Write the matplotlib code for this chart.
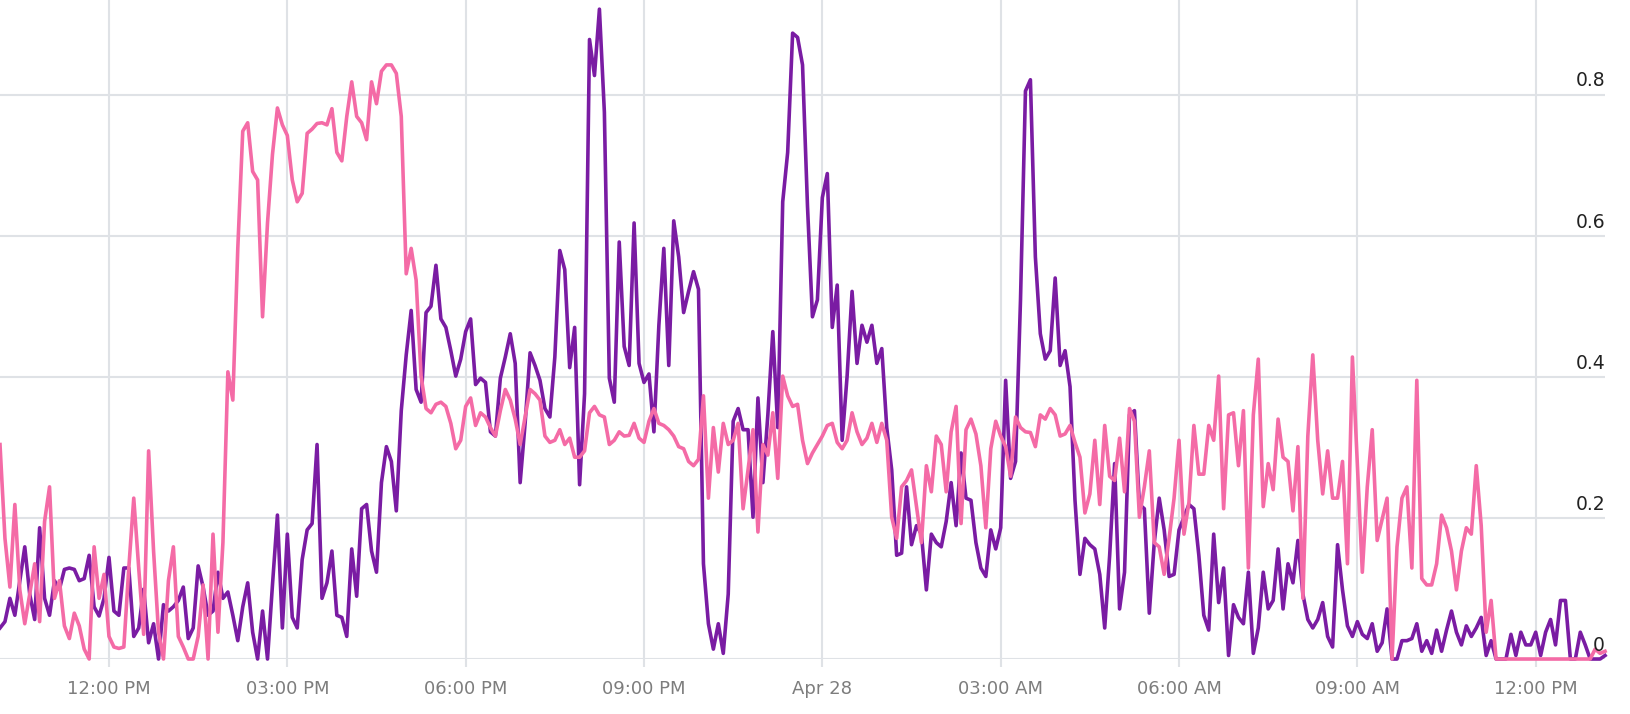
import matplotlib
matplotlib.use("Agg")
import matplotlib.pyplot as plt
import matplotlib.transforms as mtransforms
import pandas as pd

# 5-minute samples starting 10:10 AM, Apr 27
start_time = "2024-04-27 10:10"
step = "5min"

purple_values = [
    0.044, 0.053, 0.086, 0.062, 0.111, 0.159, 0.092, 0.056, 0.186, 0.086,
    0.062, 0.111, 0.099, 0.127, 0.129, 0.127, 0.111, 0.114, 0.147, 0.074,
    0.061, 0.086, 0.144, 0.068, 0.062, 0.129, 0.129, 0.032, 0.044, 0.099,
    0.023, 0.050, 0.0, 0.077, 0.068, 0.074, 0.083, 0.102, 0.029, 0.044,
    0.132, 0.102,
    0.062, 0.068, 0.123, 0.086, 0.095, 0.062, 0.026, 0.074, 0.108, 0.038,
    0.0, 0.068, 0.0, 0.105, 0.204, 0.044, 0.177, 0.059, 0.044, 0.141,
    0.183, 0.192, 0.304, 0.086, 0.108, 0.153, 0.062, 0.059, 0.032, 0.156,
    0.089, 0.213, 0.219, 0.153, 0.123, 0.250, 0.301, 0.280, 0.210, 0.352,
    0.431,
    0.494, 0.382, 0.364, 0.491, 0.500, 0.558, 0.482, 0.470, 0.437, 0.401,
    0.425, 0.464, 0.482, 0.389, 0.398, 0.392, 0.322, 0.316, 0.398, 0.428,
    0.461, 0.419, 0.250, 0.334, 0.434, 0.416, 0.395, 0.355, 0.343, 0.428,
    0.579, 0.552, 0.413, 0.470, 0.247, 0.376, 0.878, 0.827, 0.921, 0.775,
    0.398,
    0.364, 0.591, 0.443, 0.416, 0.618, 0.419, 0.392, 0.404, 0.322, 0.473,
    0.582, 0.416, 0.621, 0.570, 0.491, 0.521, 0.549, 0.524, 0.135, 0.050,
    0.014, 0.050, 0.008, 0.092, 0.337, 0.355, 0.325, 0.325, 0.201, 0.370,
    0.250, 0.346, 0.464, 0.328, 0.648, 0.718, 0.887, 0.881, 0.842, 0.642,
    0.485,
    0.509, 0.654, 0.688, 0.470, 0.530, 0.310, 0.401, 0.521, 0.419, 0.473,
    0.449, 0.473, 0.419, 0.440, 0.328, 0.268, 0.147, 0.150, 0.244, 0.162,
    0.189, 0.177, 0.098, 0.177, 0.165, 0.159, 0.195, 0.250, 0.189, 0.292,
    0.228, 0.225, 0.165, 0.129, 0.117, 0.183, 0.156, 0.186, 0.395, 0.256,
    0.280,
    0.509, 0.805, 0.821, 0.570, 0.461, 0.425, 0.437, 0.540, 0.416, 0.437,
    0.386, 0.225, 0.120, 0.171, 0.162, 0.156, 0.120, 0.044, 0.147, 0.277,
    0.071, 0.123, 0.346, 0.352, 0.219, 0.213, 0.065, 0.165, 0.228, 0.183,
    0.117, 0.120, 0.183, 0.201, 0.219, 0.213, 0.147, 0.062, 0.041, 0.177,
    0.080, 0.129,
    0.005, 0.077, 0.059, 0.050, 0.123, 0.008, 0.044, 0.123, 0.071, 0.083,
    0.156, 0.071, 0.135, 0.108, 0.168, 0.092, 0.056, 0.044, 0.056, 0.080,
    0.032, 0.017, 0.162, 0.098, 0.047, 0.032, 0.053, 0.035, 0.029, 0.050,
    0.011, 0.023, 0.071, 0.0, 0.0, 0.026, 0.026, 0.029, 0.050, 0.011,
    0.026,
    0.008, 0.041, 0.011, 0.041, 0.068, 0.038, 0.020, 0.047, 0.032, 0.044,
    0.059, 0.005, 0.026, 0.0, 0.0, 0.0, 0.035, 0.005, 0.038, 0.020,
    0.020, 0.038, 0.005, 0.038, 0.056, 0.020, 0.083, 0.083, 0.0, 0.0,
    0.038, 0.020, 0.0, 0.0, 0.0, 0.005,
]

pink_values = [
    0.304, 0.171, 0.102, 0.219, 0.098, 0.050, 0.092, 0.135, 0.053, 0.195,
    0.244, 0.086, 0.111, 0.047, 0.029, 0.065, 0.047, 0.014, 0.0, 0.159,
    0.086, 0.120, 0.032, 0.017, 0.015, 0.017, 0.129, 0.228, 0.129, 0.035,
    0.295, 0.153, 0.038, 0.0, 0.111, 0.159, 0.032, 0.017, 0.0, 0.0,
    0.032, 0.105,
    0.0, 0.177, 0.038, 0.165, 0.407, 0.367, 0.582, 0.748, 0.760, 0.691,
    0.679, 0.485, 0.618, 0.715, 0.781, 0.757, 0.742, 0.679, 0.648, 0.660,
    0.745, 0.751, 0.759, 0.760, 0.757, 0.780, 0.718, 0.706, 0.769, 0.818,
    0.769, 0.760, 0.736, 0.818, 0.787, 0.833, 0.842, 0.842, 0.830, 0.769,
    0.546,
    0.582, 0.537, 0.401, 0.355, 0.349, 0.361, 0.364, 0.358, 0.334, 0.298,
    0.310, 0.358, 0.370, 0.331, 0.349, 0.343, 0.328, 0.316, 0.352, 0.382,
    0.367, 0.340, 0.304, 0.343, 0.382, 0.376, 0.367, 0.316, 0.307, 0.310,
    0.325, 0.304, 0.313, 0.286, 0.286, 0.295, 0.349, 0.358, 0.346, 0.343,
    0.304,
    0.310, 0.322, 0.316, 0.317, 0.334, 0.313, 0.307, 0.337, 0.355, 0.334,
    0.331, 0.325, 0.316, 0.301, 0.298, 0.280, 0.274, 0.283, 0.373, 0.228,
    0.328, 0.265, 0.334, 0.304, 0.310, 0.334, 0.213, 0.268, 0.325, 0.180,
    0.304, 0.289, 0.349, 0.256, 0.401, 0.373, 0.358, 0.361, 0.310, 0.277,
    0.292,
    0.304, 0.316, 0.331, 0.334, 0.307, 0.298, 0.310, 0.349, 0.322, 0.304,
    0.313, 0.334, 0.307, 0.334, 0.310, 0.201, 0.171, 0.244, 0.253, 0.268,
    0.216, 0.165, 0.274, 0.237, 0.316, 0.304, 0.237, 0.322, 0.358, 0.192,
    0.325, 0.340, 0.319, 0.274, 0.186, 0.298, 0.337, 0.316, 0.301, 0.259,
    0.343,
    0.328, 0.322, 0.321, 0.301, 0.346, 0.340, 0.355, 0.346, 0.316, 0.319,
    0.331, 0.307, 0.286, 0.207, 0.234, 0.310, 0.219, 0.331, 0.259, 0.253,
    0.313, 0.237, 0.355, 0.337, 0.201, 0.244, 0.295, 0.165, 0.159, 0.120,
    0.171, 0.228, 0.310, 0.177, 0.222, 0.331, 0.262, 0.262, 0.331, 0.310,
    0.401, 0.213,
    0.346, 0.349, 0.274, 0.352, 0.129, 0.346, 0.425, 0.216, 0.277, 0.240,
    0.340, 0.286, 0.280, 0.210, 0.301, 0.086, 0.316, 0.431, 0.310, 0.234,
    0.295, 0.228, 0.228, 0.280, 0.135, 0.428, 0.274, 0.123, 0.244, 0.325,
    0.168, 0.198, 0.228, 0.0, 0.159, 0.228, 0.244, 0.129, 0.395, 0.114,
    0.105,
    0.105, 0.135, 0.204, 0.186, 0.153, 0.098, 0.153, 0.186, 0.177, 0.274,
    0.189, 0.038, 0.083, 0.0, 0.0, 0.0, 0.0, 0.0, 0.0, 0.0,
    0.0, 0.0, 0.0, 0.0, 0.0, 0.0, 0.0, 0.0, 0.0, 0.0,
    0.0, 0.0, 0.0, 0.014, 0.008, 0.011,
]

tick_times = ["2024-04-27 12:00", "2024-04-27 15:00", "2024-04-27 18:00",
              "2024-04-27 21:00", "2024-04-28 00:00", "2024-04-28 03:00",
              "2024-04-28 06:00", "2024-04-28 09:00", "2024-04-28 12:00"]
tick_labels = ["12:00 PM", "03:00 PM", "06:00 PM", "09:00 PM", "Apr 28",
               "03:00 AM", "06:00 AM", "09:00 AM", "12:00 PM"]
y_ticks = [0, 0.2, 0.4, 0.6, 0.8]
y_labels = ["0", "0.2", "0.4", "0.6", "0.8"]

PURPLE = "#7a1ca3"
PINK = "#f46ba6"
GRID = "#dfe2e6"

times = pd.date_range(start_time, periods=len(purple_values), freq=step)

fig = plt.figure(figsize=(16.3, 7.14), dpi=100)
ax = fig.add_axes([0.0, 0.077, 0.9847, 0.923])

ax.plot(times, purple_values, color=PURPLE, lw=2.6, clip_on=False, zorder=3)
ax.plot(times, pink_values, color=PINK, lw=2.6, clip_on=False, zorder=4)

ax.set_xlim(times[0], times[-1])
ax.set_ylim(0, 0.934)

# x axis: gridlines continue a little below the baseline as ticks
ax.set_xticks(pd.to_datetime(tick_times))
ax.set_xticklabels(tick_labels)
ax.tick_params(axis="x", length=6, width=1.5, color=GRID, pad=9,
               labelsize=13, labelcolor="#7d7d7d")

# y labels sit inside the plot, right-aligned above each gridline
ax.set_yticks(y_ticks)
ax.tick_params(axis="y", left=False, labelleft=False)
trans = mtransforms.blended_transform_factory(ax.transAxes, ax.transData)
for yv, lab in zip(y_ticks, y_labels):
    ax.annotate(lab, xy=(1.0, yv), xycoords=trans, xytext=(0, 3),
                textcoords="offset points", ha="right", va="bottom",
                fontsize=13.5, color="#222222", zorder=5)

ax.grid(True, color=GRID, lw=1.5)
ax.set_axisbelow(True)
for s in ax.spines.values():
    s.set_visible(False)

fig.savefig("out.png", dpi=100, facecolor="white")
